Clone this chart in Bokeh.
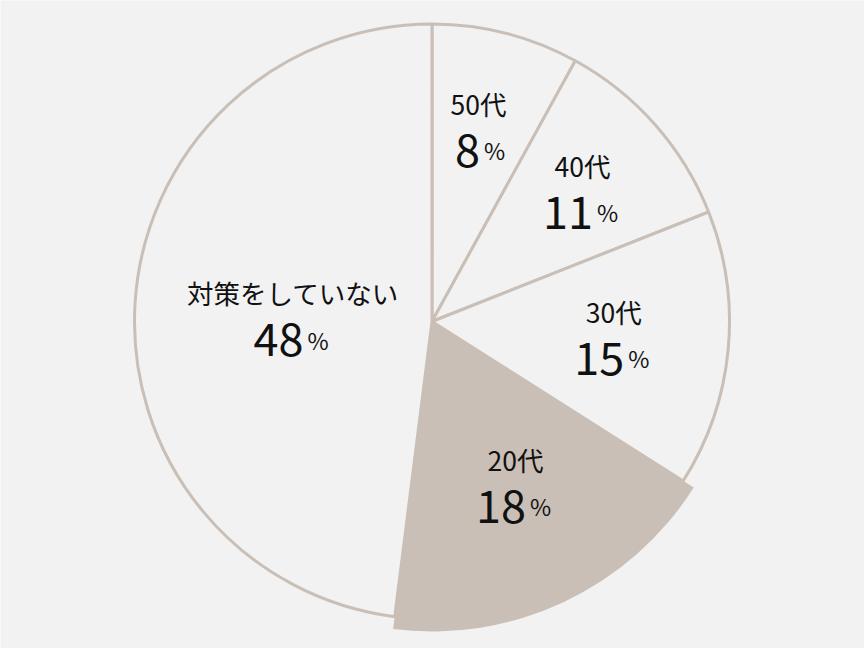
import math
from bokeh.plotting import figure
from bokeh.models import Range1d, ColumnDataSource
from bokeh.core.properties import value
from bokeh.embed import file_html
from bokeh.resources import INLINE

# ---- data ----
categories = ["50代", "40代", "30代", "20代", "対策をしていない"]
percents = [8, 11, 15, 18, 48]
highlighted = [False, False, False, True, False]

# ---- label placement (separate from data) ----
label_radius = [192, 195, 183, 189, 139]
label_angle_shift = [-0.4, 1.9, 1.4, -1.0, -5.0]  # degrees

BG = "#f2f2f2"
SLICE = "#c9bfb6"
TXT = "#111111"
FONT = "Noto Sans CJK JP"

W, H = 864, 648
cx, cy = 431.5, 327.0
R = 297.5
R_HI = 310.0

p = figure(width=W, height=H, x_range=Range1d(0, W), y_range=Range1d(0, H),
           x_axis_type=None, y_axis_type=None, toolbar_location=None,
           output_backend="svg", min_border=0)
p.background_fill_color = BG
p.border_fill_color = BG
p.outline_line_color = None

total = float(sum(percents))
starts, ends, mids = [], [], []
cum = 0.0
for v in percents:
    s = cum / total
    cum += v
    e = cum / total
    starts.append(math.pi / 2 - 2 * math.pi * s)
    ends.append(math.pi / 2 - 2 * math.pi * e)
    mids.append(360.0 * (s + e) / 2)

normal = [i for i in range(len(percents)) if not highlighted[i]]
hi = [i for i in range(len(percents)) if highlighted[i]]

src_n = ColumnDataSource(dict(
    x=[cx] * len(normal), y=[cy] * len(normal),
    s=[starts[i] for i in normal], e=[ends[i] for i in normal]))
p.wedge(x="x", y="y", radius=R, start_angle="s", end_angle="e", direction="clock",
        fill_color=BG, line_color=SLICE, line_width=3, source=src_n)

src_h = ColumnDataSource(dict(
    x=[cx] * len(hi), y=[cy] * len(hi),
    s=[starts[i] for i in hi], e=[ends[i] for i in hi]))
p.wedge(x="x", y="y", radius=R_HI, start_angle="s", end_angle="e", direction="clock",
        fill_color=SLICE, line_color=None, source=src_h)

lx, ly, nx, ny, px_, nums = [], [], [], [], [], []
for i, v in enumerate(percents):
    th = math.radians(mids[i] + label_angle_shift[i])
    ax = cx + label_radius[i] * math.sin(th)
    ay = cy + label_radius[i] * math.cos(th)
    lx.append(ax)
    ly.append(ay + 32)
    nd = len(str(v))
    xn = ax + 9 * nd - 7.5
    nx.append(xn)
    ny.append(ay + 30 - 45)
    px_.append(xn + 4)
    nums.append(str(v))

p.text(x=lx, y=ly, text=categories, text_align="center", text_baseline="middle",
       text_font=value(FONT), text_font_size="26.5px", text_color=TXT)
p.text(x=nx, y=ny, text=nums, text_align="right", text_baseline="alphabetic",
       text_font=value(FONT), text_font_size="45px", text_color=TXT)
p.text(x=px_, y=ny, text=["%"] * len(nums), text_align="left", text_baseline="alphabetic",
       text_font=value(FONT), text_font_size="23px", text_color=TXT)

open("out.html", "w").write(file_html(p, INLINE))
